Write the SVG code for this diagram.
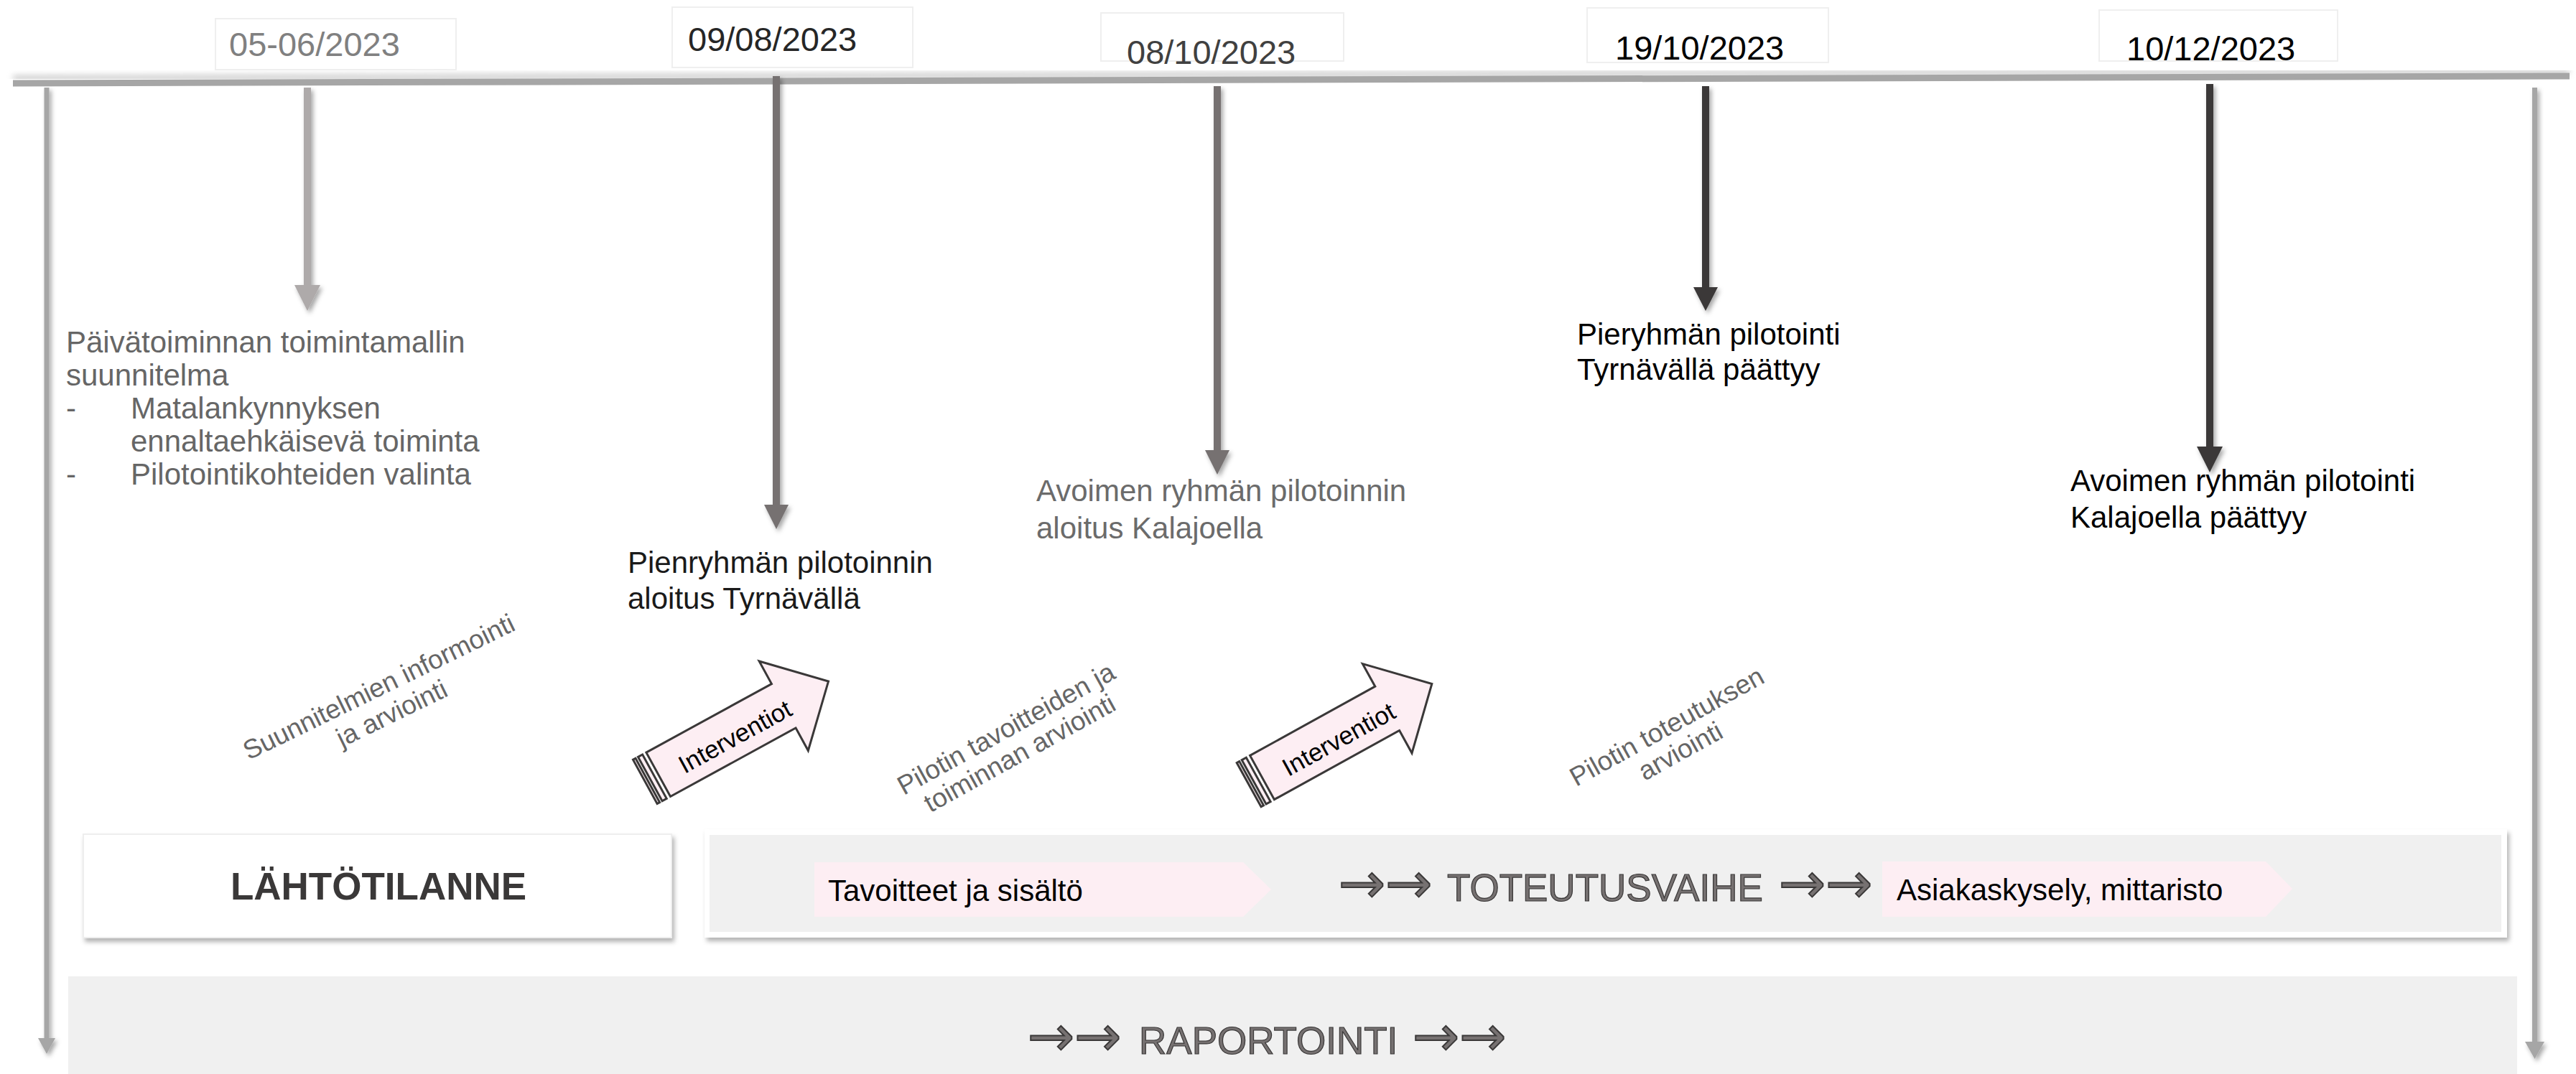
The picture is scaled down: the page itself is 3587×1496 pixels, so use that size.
<svg xmlns="http://www.w3.org/2000/svg" width="3587" height="1496" viewBox="0 0 3587 1496">
<defs>
<filter id="sh" x="-20%" y="-20%" width="140%" height="140%">
<feDropShadow dx="3" dy="4" stdDeviation="3" flood-color="#000" flood-opacity="0.35"/>
</filter>
<filter id="shBox" x="-5%" y="-20%" width="110%" height="140%">
<feDropShadow dx="3" dy="5" stdDeviation="3" flood-color="#000" flood-opacity="0.3"/>
</filter>
<filter id="blur"><feGaussianBlur stdDeviation="4"/></filter>
<style>
text{font-family:"Liberation Sans",Arial,sans-serif}
.date{font-size:47px}
.dbox{fill:#fff;stroke:#efefef;stroke-width:2}
.ev{font-size:42px}
.rot{font-size:37px;fill:#666;text-anchor:middle}
.chev{fill:#fdeef3}
.intv{fill:#fdeef3;stroke:#3a3838;stroke-width:3}
.phase{font-size:53px;fill:#767171;stroke:#3a3838;stroke-width:1.2}
.arr{font-family:"DejaVu Sans",sans-serif;font-size:78px;fill:#767171;stroke:#3a3838;stroke-width:2}
</style>
</defs>
<rect width="3587" height="1496" fill="#fff"/>

<!-- bottom boxes -->
<g id="raportointi">
<rect x="95" y="1360" width="3410" height="136" fill="#f0f0f0"/>
<text class="arr" x="1431" y="1470">→→</text>
<text class="phase" x="1586" y="1468">RAPORTOINTI</text>
<text class="arr" x="1967" y="1470">→→</text>
</g>
<g id="lahtotilanne">
<rect x="116" y="1162" width="819" height="144" fill="#fff" stroke="#eeeeee" stroke-width="2" filter="url(#shBox)"/>
<text x="527" y="1253" text-anchor="middle" font-size="53" font-weight="bold" fill="#3a3838">LÄHTÖTILANNE</text>
</g>
<g id="toteutusvaihe">
<rect x="981" y="1155" width="2510" height="151" fill="#fff" filter="url(#shBox)"/>
<rect x="988" y="1163" width="2495" height="135" fill="#f0f0f0"/>
<path class="chev" d="M1134,1201 H1731 L1770,1239 L1731,1277 H1134 Z"/>
<text class="ev" x="1153" y="1255" fill="#000">Tavoitteet ja sisältö</text>
<path class="chev" d="M2621,1200 H3155 L3192,1238 L3155,1277 H2621 Z"/>
<text class="ev" x="2641" y="1254" fill="#000">Asiakaskysely, mittaristo</text>
<text class="arr" x="1864" y="1257">→→</text>
<text class="phase" x="2015" y="1255">TOTEUTUSVAIHE</text>
<text class="arr" x="2477" y="1257">→→</text>
</g>

<!-- timeline bar -->
<g id="timeline">
<line x1="18" y1="109" x2="3578" y2="99" stroke="#9a9a9a" stroke-width="8" opacity="0.5" filter="url(#blur)"/>
<line x1="18" y1="116" x2="3578" y2="106" stroke="#a6a6a6" stroke-width="9"/>
</g>

<!-- date labels -->
<g id="d1"><rect class="dbox" x="300" y="26" width="335" height="71"/><text class="date" x="319" y="78" fill="#808080">05-06/2023</text></g>
<g id="d2"><rect class="dbox" x="936" y="10" width="335" height="84"/><text class="date" x="958" y="71" fill="#262626">09/08/2023</text></g>
<g id="d3"><rect class="dbox" x="1533" y="18" width="338" height="67"/><text class="date" x="1569" y="89" fill="#404040">08/10/2023</text></g>
<g id="d4"><rect class="dbox" x="2210" y="11" width="336" height="76"/><text class="date" x="2249" y="83" fill="#000">19/10/2023</text></g>
<g id="d5"><rect class="dbox" x="2923" y="14" width="332" height="71"/><text class="date" x="2961" y="84" fill="#000">10/12/2023</text></g>

<!-- connectors -->
<g id="connectors" filter="url(#sh)">
<path d="M61.5,122 H68.5 V1446 H77 L65,1468 L53,1446 H61.5 Z" fill="#a6a6a6"/>
<path d="M3526,122 H3533 V1451 H3543 L3529.5,1475 L3516,1451 H3526 Z" fill="#a6a6a6"/>
<path d="M423,122 H433 V397 H446 L428,433 L410,397 H423 Z" fill="#aeaaaa"/>
<path d="M1076,106 H1086 V703 H1098 L1081,737 L1064,703 H1076 Z" fill="#767171"/>
<path d="M1690,120 H1700 V627 H1712 L1695,661 L1678,627 H1690 Z" fill="#767171"/>
<path d="M2370,120 H2380 V400 H2392 L2375,433 L2358,400 H2370 Z" fill="#3a3838"/>
<path d="M3072,117 H3082 V622 H3095 L3077,658 L3059,622 H3072 Z" fill="#3a3838"/>
</g>

<!-- events -->
<g id="e1">
<text class="ev" fill="#666">
<tspan x="92" y="491">Päivätoiminnan toimintamallin</tspan>
<tspan x="92" y="537">suunnitelma</tspan>
<tspan x="92" y="583">-</tspan><tspan x="182" y="583">Matalankynnyksen</tspan>
<tspan x="182" y="629">ennaltaehkäisevä toiminta</tspan>
<tspan x="92" y="675">-</tspan><tspan x="182" y="675">Pilotointikohteiden valinta</tspan>
</text>
</g>
<g id="e2">
<text class="ev" fill="#1a1a1a"><tspan x="874" y="798">Pienryhmän pilotoinnin</tspan><tspan x="874" y="848">aloitus Tyrnävällä</tspan></text>
</g>
<g id="e3">
<text class="ev" fill="#6b6b6b"><tspan x="1443" y="698">Avoimen ryhmän pilotoinnin</tspan><tspan x="1443" y="750">aloitus Kalajoella</tspan></text>
</g>
<g id="e4">
<text class="ev" fill="#000"><tspan x="2196" y="480">Pieryhmän pilotointi</tspan><tspan x="2196" y="529">Tyrnävällä päättyy</tspan></text>
</g>
<g id="e5">
<text class="ev" fill="#000"><tspan x="2883" y="684">Avoimen ryhmän pilotointi</tspan><tspan x="2883" y="735">Kalajoella päättyy</tspan></text>
</g>

<!-- rotated phase notes -->
<g id="n1"><text class="rot" transform="translate(533,968) rotate(-26)"><tspan x="0" y="0">Suunnitelmien informointi</tspan><tspan x="0" y="41">ja arviointi</tspan></text></g>
<g id="n2"><text class="rot" transform="translate(1407,1026) rotate(-29)"><tspan x="0" y="0">Pilotin tavoitteiden ja</tspan><tspan x="0" y="39">toiminnan arviointi</tspan></text></g>
<g id="n3"><text class="rot" transform="translate(2327,1023) rotate(-29)"><tspan x="0" y="0">Pilotin toteutuksen</tspan><tspan x="0" y="39">arviointi</tspan></text></g>

<!-- intervention arrows -->
<g id="i1" transform="translate(916.7,1078.8) rotate(-28.7)">
<rect class="intv" x="-21" y="-35" width="4" height="70"/>
<rect class="intv" x="-13" y="-35" width="7" height="70"/>
<path class="intv" d="M0,-35 H199 V-71 L270,0 L199,71 V35 H0 Z"/>
<text x="119" y="17" text-anchor="middle" font-size="35" fill="#000">Interventiot</text>
</g>
<g id="i2" transform="translate(1757.5,1083) rotate(-28.9)">
<rect class="intv" x="-21" y="-35" width="4" height="70"/>
<rect class="intv" x="-13" y="-35" width="7" height="70"/>
<path class="intv" d="M0,-35 H199 V-71 L270,0 L199,71 V35 H0 Z"/>
<text x="119" y="17" text-anchor="middle" font-size="35" fill="#000">Interventiot</text>
</g>
</svg>
